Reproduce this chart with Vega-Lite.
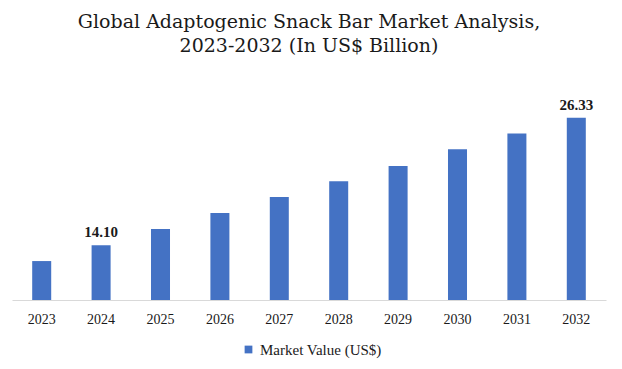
{
  "$schema": "https://vega.github.io/schema/vega-lite/v6.json",
  "width": 594,
  "height": 200,
  "autosize": {"type": "none"},
  "padding": {"left": 12, "top": 100, "right": 16, "bottom": 69},
  "background": "white",
  "config": {"view": {"stroke": null}, "font": "Liberation Serif"},
  "title": {
    "text": ["Global Adaptogenic Snack Bar Market Analysis,", "2023-2032 (In US$ Billion)"],
    "font": "DejaVu Serif",
    "fontSize": 19,
    "fontWeight": "normal",
    "color": "#1a1a1a",
    "anchor": "middle",
    "lineHeight": 24,
    "offset": 42
  },
  "data": {
    "values": [
      {"year": "2023", "value": 12.59},
      {"year": "2024", "value": 14.10},
      {"year": "2025", "value": 15.66},
      {"year": "2026", "value": 17.20},
      {"year": "2027", "value": 18.73},
      {"year": "2028", "value": 20.23},
      {"year": "2029", "value": 21.70},
      {"year": "2030", "value": 23.30},
      {"year": "2031", "value": 24.83},
      {"year": "2032", "value": 26.33}
    ]
  },
  "encoding": {
    "x": {
      "field": "year",
      "type": "ordinal",
      "scale": {"paddingInner": 0.68, "paddingOuter": 0.34},
      "axis": {
        "title": null,
        "labelAngle": 0,
        "labelFont": "Liberation Serif",
        "labelFontSize": 14,
        "labelColor": "#1a1a1a",
        "labelPadding": 12,
        "ticks": false,
        "domainColor": "#d9d9d9",
        "domainWidth": 1
      }
    },
    "y": {
      "field": "value",
      "type": "quantitative",
      "scale": {"domain": [8.857, 28.03], "clamp": true, "zero": false, "nice": false},
      "axis": null
    }
  },
  "layer": [
    {
      "mark": {"type": "bar", "color": "#4472C4"},
      "encoding": {
        "color": {
          "datum": "Market Value (US$)",
          "scale": {"range": ["#4472C4"]},
          "legend": {
            "title": null,
            "orient": "none",
            "legendX": 229,
            "legendY": 242,
            "symbolType": "square",
            "symbolSize": 60,
            "labelFont": "Liberation Serif",
            "labelFontSize": 15,
            "labelColor": "#1a1a1a",
            "symbolStrokeWidth": 0
          }
        }
      }
    },
    {
      "transform": [{"filter": "datum.year == '2024' || datum.year == '2032'"}],
      "mark": {
        "type": "text",
        "dy": -13,
        "font": "Liberation Serif",
        "fontSize": 15,
        "fontWeight": "bold",
        "color": "#1a1a1a"
      },
      "encoding": {
        "text": {"field": "value", "type": "quantitative", "format": ".2f"}
      }
    }
  ]
}
